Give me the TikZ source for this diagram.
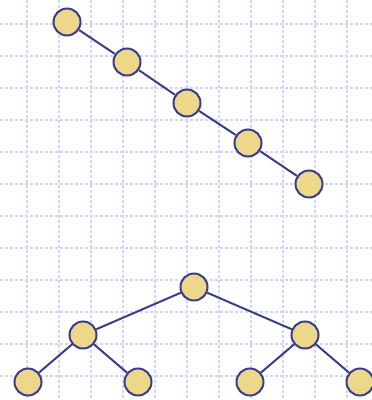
\documentclass[tikz,border=0pt]{standalone}
\usepackage{tikz}
\usepackage{xcolor}
\usetikzlibrary{positioning}
\definecolor{gridblue}{RGB}{206,214,250}
\definecolor{nodefill}{RGB}{236,216,136}
\definecolor{edgeblue}{RGB}{60,60,140}

\begin{document}
\begin{tikzpicture}[
  x=1pt, y=-1pt,
  vert/.style={draw=edgeblue, circle, line width=2pt, fill=nodefill,
               minimum size=27pt, inner sep=0pt},
  edge/.style={draw=edgeblue, line width=2pt},
  gridline/.style={draw=gridblue, line width=1.2pt, dash pattern=on 3pt off 2pt},
]
\useasboundingbox (0,0) rectangle (372,400);
% Grid
\foreach \gx in {27,59,...,347} \draw[gridline] (\gx,0) -- (\gx,400);
\foreach \gy in {24,56,...,376} \draw[gridline] (0,\gy) -- (372,\gy);

% Chain
\node[vert] (c1) at (67,22) {};
\node[vert] (c2) at (127,62) {};
\node[vert] (c3) at (187,103) {};
\node[vert] (c4) at (248,143) {};
\node[vert] (c5) at (309,184) {};

% Balanced tree
\node[vert] (r) at (194,287) {};
\node[vert] (a) at (83,335) {};
\node[vert] (b) at (305,335) {};
\node[vert] (a1) at (28,382) {};
\node[vert] (a2) at (138,382) {};
\node[vert] (b1) at (250,382) {};
\node[vert] (b2) at (360,382) {};

% Edges
\draw[edge] (c1) -- (c2);
\draw[edge] (c2) -- (c3);
\draw[edge] (c3) -- (c4);
\draw[edge] (c4) -- (c5);
\draw[edge] (r) -- (a);
\draw[edge] (r) -- (b);
\draw[edge] (a) -- (a1);
\draw[edge] (a) -- (a2);
\draw[edge] (b) -- (b1);
\draw[edge] (b) -- (b2);
\end{tikzpicture}
\end{document}
